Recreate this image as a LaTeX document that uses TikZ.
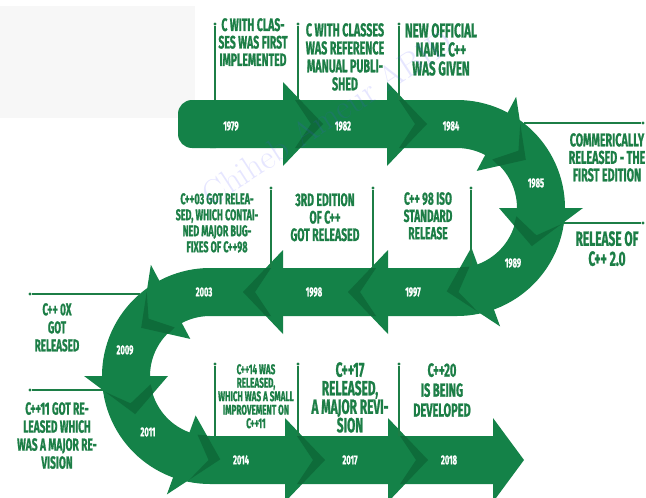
\documentclass[tikz,border=0pt]{standalone}
\usepackage{fontspec}
\usepackage{xcolor}
\usepackage{tikz}
\newfontfamily\bebas[FakeStretch=0.58, FakeBold=1]{Fira Sans}
\definecolor{cppgreen}{RGB}{20,130,72}
\definecolor{cppshade}{RGB}{14,108,58}
\definecolor{cpptext}{RGB}{28,126,70}
\newcommand\capsfont[2]{\bebas\bfseries\fontsize{#1}{#2}\selectfont}
% straight arrow head: base x, centre y, direction
\newcommand\headstraight[3]{%
  \begin{scope}[shift={(#1,#2)}, xscale=#3]
    \fill[cppgreen] (0,-42) -- (40,0) -- (0,42) -- cycle;
    \begin{scope}
      \clip (0,-42) -- (40,0) -- (0,42) -- cycle;
      \fill[cppshade] (12,-24) -- (28,0) -- (12,24) -- (50,24) -- (50,-24) -- cycle;
    \end{scope}
  \end{scope}}
% arrow head on a bend: centre x, centre y, base angle, sense
\newcommand\headarc[4]{%
  \begin{scope}[shift={(#1,#2)}]
    \pgfmathsetmacro\tipA{#3+#4*27}
    \pgfmathsetmacro\tailA{#3+#4*8}
    \pgfmathsetmacro\notchA{#3+#4*19}
    \pgfmathsetmacro\farA{#3+#4*24}
    \pgfmathsetmacro\endA{#3+#4*40}
    \fill[cppgreen] (#3:42) -- (\tipA:84) -- (#3:126) -- cycle;
    \begin{scope}
      \clip (#3:42) -- (\tipA:84) -- (#3:126) -- cycle;
      \fill[cppshade] (\tailA:108) -- (\notchA:84) -- (\tailA:60) -- (\farA:60) -- (\endA:60)
        -- (\endA:108) -- (\farA:108) -- cycle;
    \end{scope}
  \end{scope}}

\begin{document}
\begin{tikzpicture}[
        x=1pt, y=-1pt,
        ribbon/.style={draw=cppgreen, line width=48pt, line cap=butt},
        year/.style={text=white, font=\capsfont{13}{13}, inner sep=0pt},
        info/.style={text=cpptext, align=center, anchor=north, inner sep=0pt},
        callout/.style={draw=cpptext, line width=1.1pt},
        dotend/.style={circle, fill=cpptext, inner sep=0pt, minimum size=3.2pt},
        watermark/.style={text=blue!70!white, opacity=0.14, rotate=33, font=\fontsize{34}{34}\selectfont\rmfamily}
    ]
        \useasboundingbox (0,0) rectangle (646,498);
        \fill[black!3] (0,6) rectangle (195,118);

        % the snake
        \fill[cppgreen, rounded corners=14pt] (178,100) rectangle (230,148);
        \draw[ribbon] (210,124) -- (457,124)
            -- plot[domain=-90:90, samples=61] ({457+84*cos(\x)},{208+84*sin(\x)})
            -- (210,292)
            -- plot[domain=-90:-270, samples=61] ({210+84*cos(\x)},{376+84*sin(\x)})
            -- (493,460);
        \headstraight{283}{124}{1}
        \headstraight{387}{124}{1}
        \headarc{457}{208}{-62}{1}
        \headarc{457}{208}{0}{1}
        \headarc{457}{208}{70}{1}
        \headstraight{388}{292}{-1}
        \headstraight{283}{292}{-1}
        \headarc{210}{376}{-118}{-1}
        \headarc{210}{376}{-180}{-1}
        \headarc{210}{376}{-250}{-1}
        \headstraight{285}{460}{1}
        \headstraight{388}{460}{1}
        \fill[cppgreen] (493,418) -- (524,460) -- (493,502) -- cycle;

        \node[year] (y1979) at (231,126) {1979};
        \node[year] (y1982) at (343,126) {1982};
        \node[year] (y1984) at (451,126) {1984};
        \node[year] (y1985) at (536,183) {1985};
        \node[year] (y1989) at (513,263) {1989};
        \node[year] (y1997) at (413,292) {1997};
        \node[year] (y1998) at (314,292) {1998};
        \node[year] (y2003) at (204,292) {2003};
        \node[year] (y2009) at (125,350) {2009};
        \node[year] (y2011) at (148,432) {2011};
        \node[year] (y2014) at (241,460) {2014};
        \node[year] (y2017) at (350,460) {2017};
        \node[year] (y2018) at (449,460) {2018};

        % callouts
        \coordinate (b1979) at (215,100);
        \node[dotend] (d1979) at (215,24) {};
        \coordinate (b1982) at (298,100);
        \node[dotend] (d1982) at (298,24) {};
        \coordinate (b1984) at (399,100);
        \node[dotend] (d1984) at (399,24) {};
        \coordinate (b1985) at (524,123);
        \node[dotend] (d1985) at (643,123) {};
        \coordinate (b1989) at (564,223);
        \node[dotend] (d1989) at (643,223) {};
        \coordinate (b1997) at (471,266);
        \node[dotend] (d1997) at (471,188) {};
        \coordinate (b1998) at (373,268);
        \node[dotend] (d1998) at (373,188) {};
        \coordinate (b2003) at (271,268);
        \node[dotend] (d2003) at (271,188) {};
        \coordinate (b2009) at (140,294);
        \node[dotend] (d2009) at (30,294) {};
        \coordinate (b2011) at (103,390);
        \node[dotend] (d2011) at (30,390) {};
        \coordinate (b2014) at (215,436);
        \node[dotend] (d2014) at (215,364) {};
        \coordinate (b2017) at (298,436);
        \node[dotend] (d2017) at (298,364) {};
        \coordinate (b2018) at (399,436);
        \node[dotend] (d2018) at (399,364) {};

        \draw[callout] (b1979) -- (d1979);
        \draw[callout] (b1982) -- (d1982);
        \draw[callout] (b1984) -- (d1984);
        \draw[callout] (b1985) -- (d1985);
        \draw[callout] (b1989) -- (d1989);
        \draw[callout] (b1997) -- (d1997);
        \draw[callout] (b1998) -- (d1998);
        \draw[callout] (b2003) -- (d2003);
        \draw[callout] (b2009) -- (d2009);
        \draw[callout] (b2011) -- (d2011);
        \draw[callout] (b2014) -- (d2014);
        \draw[callout] (b2017) -- (d2017);
        \draw[callout] (b2018) -- (d2018);

        \node[info, font=\capsfont{18}{17.5}] (t1979) at (253,18) {C WITH CLAS-\\SES WAS FIRST\\IMPLEMENTED};
        \node[info, font=\capsfont{18.5}{18}] (t1982) at (345,23) {C WITH CLASSES\\WAS REFERENCE\\MANUAL PUBLI-\\SHED};
        \node[info, font=\capsfont{20}{19}] (t1984) at (441,23) {NEW OFFICIAL\\NAME C++\\WAS GIVEN};
        \node[info, font=\capsfont{18.5}{17.5}] (t1985) at (607,133) {COMMERICALLY\\RELEASED - THE\\FIRST EDITION};
        \node[info, font=\capsfont{20.5}{20}] (t1989) at (607,231) {RELEASE OF\\C++ 2.0};
        \node[info, font=\capsfont{17.5}{17.3}] (t1997) at (428,192) {C++ 98 ISO\\STANDARD\\RELEASE};
        \node[info, font=\capsfont{18}{17.5}] (t1998) at (325,193) {3RD EDITION\\OF C++\\GOT RELEASED};
        \node[info, font=\capsfont{15.5}{16}] (t2003) at (217,193) {C++03 GOT RELEA-\\SED, WHICH CONTAI-\\NED MAJOR BUG-\\FIXES OF C++98};
        \node[info, font=\capsfont{17}{18}] (t2009) at (57,303) {C++ 0X\\GOT\\RELEASED};
        \node[info, font=\capsfont{17.5}{18}] (t2011) at (57,402) {C++11 GOT RE-\\LEASED WHICH\\WAS A MAJOR RE-\\VISION};
        \node[info, font=\capsfont{14}{13.5}] (t2014) at (256,364) {C++14 WAS\\RELEASED,\\WHICH WAS A SMALL\\IMPROVEMENT ON\\C++11};
        \node[info, font=\capsfont{20.5}{18.5}] (t2017) at (350,362) {C++17\\RELEASED,\\A MAJOR REVI-\\SION};
        \node[info, font=\capsfont{19}{20}] (t2018) at (442,363) {C++20\\IS BEING\\DEVELOPED};

        \node[watermark] (wm) at (327,118) {Chiheb Ameur ABID};
    \end{tikzpicture}
\end{document}
